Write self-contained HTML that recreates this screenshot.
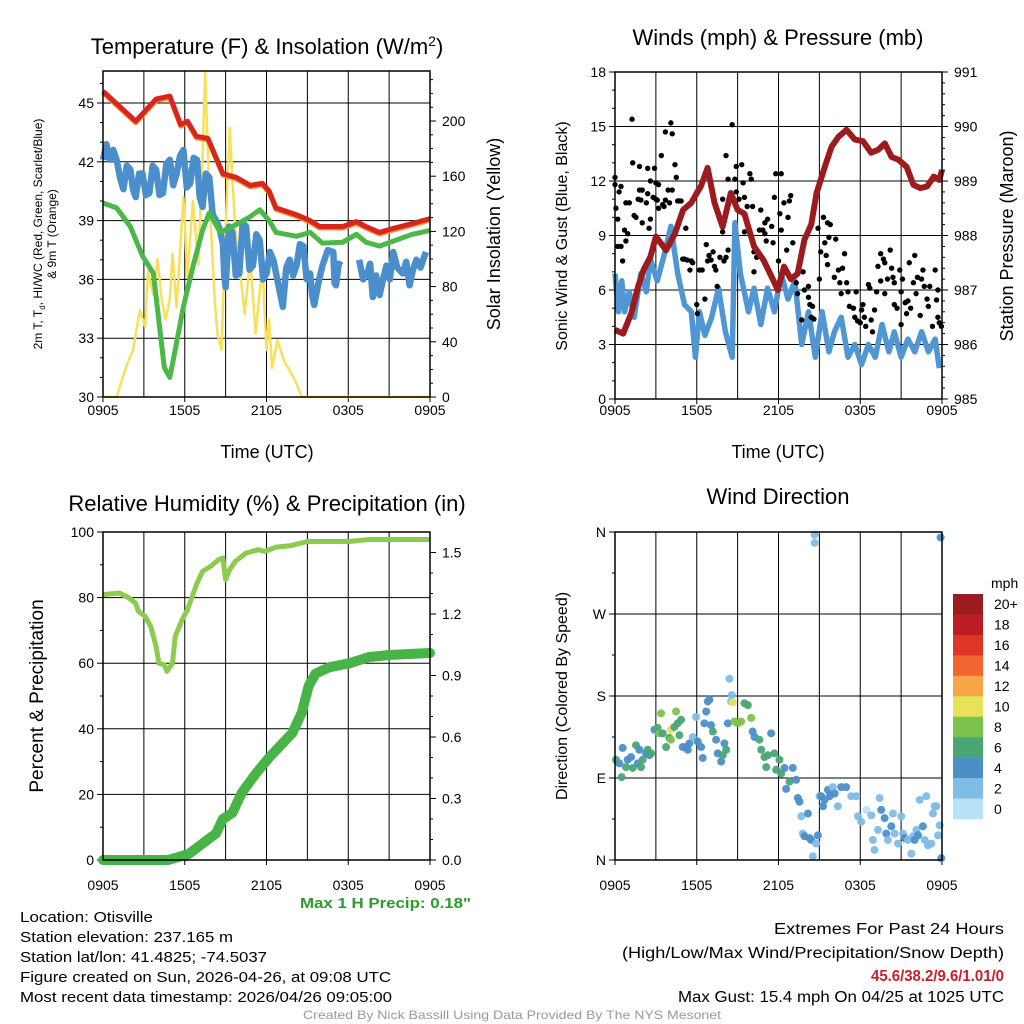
<!DOCTYPE html>
<html><head><meta charset="utf-8"><style>
html,body{margin:0;padding:0;background:#fff;}
svg{display:block;font-family:"Liberation Sans",Arial,sans-serif;}
</style></head><body>
<svg id="root" width="1024" height="1024" viewBox="0 0 1024 1024">
<g id="p1"></g>
<g id="p2"></g>
<g id="p3"></g>
<g id="p4"></g>
<g id="texts">
<text x="20" y="922" font-size="14.5" textLength="133" lengthAdjust="spacingAndGlyphs">Location: Otisville</text>
<text x="20" y="942" font-size="14.5" textLength="213" lengthAdjust="spacingAndGlyphs">Station elevation: 237.165 m</text>
<text x="20" y="962" font-size="14.5" textLength="247" lengthAdjust="spacingAndGlyphs">Station lat/lon: 41.4825; -74.5037</text>
<text x="20" y="982" font-size="14.5" textLength="371" lengthAdjust="spacingAndGlyphs">Figure created on Sun, 2026-04-26, at 09:08 UTC</text>
<text x="20" y="1002" font-size="14.5" textLength="372" lengthAdjust="spacingAndGlyphs">Most recent data timestamp: 2026/04/26 09:05:00</text>
<text x="774" y="934" font-size="15.5" textLength="230" lengthAdjust="spacingAndGlyphs">Extremes For Past 24 Hours</text>
<text x="622" y="958" font-size="15.5" textLength="382" lengthAdjust="spacingAndGlyphs">(High/Low/Max Wind/Precipitation/Snow Depth)</text>
<text x="871" y="981" font-size="15.5" font-weight="bold" fill="#c8202a" textLength="133" lengthAdjust="spacingAndGlyphs">45.6/38.2/9.6/1.01/0</text>
<text x="678" y="1002" font-size="15.5" textLength="326" lengthAdjust="spacingAndGlyphs">Max Gust: 15.4 mph On 04/25 at 1025 UTC</text>
<text x="300" y="908" font-size="14.5" font-weight="bold" fill="#2c9a2c" textLength="171" lengthAdjust="spacingAndGlyphs">Max 1 H Precip: 0.18"</text>
<text x="303" y="1019" font-size="12" fill="#999" textLength="418" lengthAdjust="spacingAndGlyphs">Created By Nick Bassill Using Data Provided By The NYS Mesonet</text>
</g>
</svg>
<script>
// ---------- DATA ----------
const xTickLabels = ["0905","1505","2105","0305","0905"];
const tempTicks = [30,33,36,39,42,45];
const solarTicks = [0,40,80,120,160,200];
const tempT = [0,2.4,3.9,4.9,5.7,6.2,6.85,7.7,8.8,9.8,10.8,11.7,12.2,12.7,14.2,15.2,15.9,17.6,18.6,19.3,20.3,21.3,22.7,24];
const tempV = [45.6,44.07,45.2,45.35,43.9,44.07,43.3,43.2,41.4,41.2,40.8,40.9,40.5,39.65,39.3,39.0,38.7,38.7,38.95,38.7,38.4,38.6,38.85,39.1];
const dewT = [0,1,2,2.9,3.7,4.2,4.5,4.9,5.3,5.9,6.6,7.3,7.8,8.6,9.8,10.8,11.5,12.2,12.7,14.2,15.2,16.1,17.6,18.6,19.3,20.3,21.5,22.7,24];
const dewV = [39.9,39.65,38.7,37.2,36.3,33.3,31.5,31.0,32.4,34.6,36.65,38.5,39.4,38.4,38.8,39.2,39.55,39.0,38.4,38.2,38.4,37.85,37.9,38.3,37.9,37.7,38.0,38.3,38.5];
const wcT = [0,0.25,0.5,0.75,1,1.25,1.5,1.75,2,2.2,2.4,2.65,2.9,3.15,3.4,3.65,3.9,4.15,4.4,4.65,4.9,5.15,5.4,5.65,5.9,6.15,6.4,6.65,6.9,7.1,7.3,7.55,7.8,8.05,8.3,8.55,8.8,8.9,9.0,9.25,9.5,9.75,10.0,10.25,10.5,10.75,11.0,11.25,11.5,11.75,12.0,12.25,12.5,12.85,13.2,13.45,13.7,13.95,14.2,14.45,14.7,14.95,15.2,15.35,15.5,15.8,16.1,16.5,16.9,17.0,17.1,17.3,17.5];
const wcV = [42.1,42.9,42.1,42.6,42.1,41.2,40.6,41.8,41.6,40.6,40.2,41.4,41.4,40.3,40.4,41.8,41.6,40.3,40.4,41.9,42.1,40.8,41.4,42.3,42.6,40.7,40.9,42.2,42.1,40.2,39.7,41.4,41.2,39.3,39.0,38.6,37.8,36.2,35.6,38.7,38.4,36.2,36.3,38.9,38.7,36.5,36.7,38.3,38.0,36.0,36.3,37.4,37.0,35.8,34.6,36.6,37.0,36.2,36.7,37.8,37.7,36.0,36.3,35.2,34.7,35.8,36.7,37.5,37.4,35.8,35.7,36.8,36.7];
const wcT2 = [18.8,19.1,19.4,19.6,19.8,20.05,20.3,20.55,20.8,21.05,21.3,21.6,22.0,22.25,22.5,22.75,23.0,23.3,23.7];
const wcV2 = [37.0,36.0,36.3,36.8,35.1,36.2,35.2,36.0,36.7,36.0,37.4,36.6,36.3,36.9,35.7,36.5,37.0,36.6,37.4];
const solT = [0,1,1.7,2.2,2.7,3.1,3.3,3.7,4.0,4.3,4.6,4.9,5.1,5.4,5.9,6.2,6.6,7.0,7.3,7.5,7.8,8.2,8.4,8.7,9.0,9.3,9.7,10.0,10.4,10.8,11.2,11.7,12.0,12.2,12.4,12.8,13.3,14.1,14.6,24];
const solV = [0,0,22,34,63,51,91,74,100,71,56,71,104,65,145,87,142,96,174,235,145,71,46,34,121,195,121,96,60,101,46,96,34,56,21,41,26,12,0,0];

const windTicks = [0,3,6,9,12,15,18];
const presTicks = [985,986,987,988,989,990,991];
const spdT = [0,0.25,0.5,0.7,1.05,1.4,1.9,2.3,2.6,3.1,3.6,4.1,4.6,5.1,5.6,5.9,6.2,6.6,7.1,7.6,8.1,8.6,8.8,9.2,9.8,10.2,10.7,11.2,11.7,12.2,12.7,13.2,13.7,14.2,14.7,15.2,15.7,16.1,16.6,17.1,17.6,18.1,18.6,19.1,19.6,20.1,20.5,21.0,21.5,22.0,22.5,23.0,23.5,23.8];
const spdV = [6.9,4.8,6.5,4.8,5.9,4.5,6.9,5.9,7.7,6.5,7.9,9.5,6.9,5.2,4.8,2.3,4.8,3.5,4.5,6.1,3.7,2.3,9.7,6.9,4.8,6.1,4.1,6.1,4.8,6.9,5.5,6.5,3.0,4.8,2.3,4.8,2.6,3.7,4.5,2.3,3.0,1.9,3.0,2.3,4.1,2.6,3.7,2.3,3.3,2.6,3.7,2.6,3.3,1.7];
const gustT = [0,0,0.07,0.2,0.44,0.3,0.2,0.44,0.56,0.7,0.8,0.93,0.8,1.05,1.25,1.3,1.4,1.54,1.8,1.8,2.0,1.7,1.9,2.0,2.3,2.4,2.4,2.5,2.6,2.6,2.8,2.9,3.0,3.0,3.1,3.2,3.2,3.4,3.5,3.6,3.7,3.7,3.9,4.0,4.1,4.2,4.2,4.4,4.5,4.6,4.7,4.85,4.97,5.2,5.1,5.3,5.6,5.5,5.7,6.0,6.05,6.2,6.4,6.6,6.7,6.8,6.9,7.05,7.2,7.3,7.4,7.5,7.7,7.9,7.9,8.0,8.15,8.3,8.15,8.3,8.6,8.8,8.9,8.9,9.1,9.3,9.4,9.5,9.5,9.7,9.9,10.0,10.1,10.2,10.4,10.2,10.7,10.6,10.85,11.0,11.0,11.1,11.2,11.5,11.6,11.7,11.8,12.0,12.1,12.2,12.2,12.4,12.6,12.7,12.8,12.9,13.05,13.3,13.4,13.7,13.8,13.9,14.2,14.2,14.3,14.5,14.4,14.6,14.9,15.0,15.1,15.3,15.4,15.5,15.6,15.6,15.7,15.8,16.2,16.1,16.4,16.5,16.6,16.85,16.7,17.0,17.1,17.2,17.5,17.7,17.6,17.8,18.0,18.1,18.2,18.3,18.4,18.6,18.7,18.8,18.9,19.05,19.2,19.3,19.5,19.7,19.8,19.5,19.8,20.2,20.0,20.3,20.4,20.5,20.5,20.7,20.9,21.0,21.1,21.3,21.4,21.0,21.5,21.6,21.7,21.9,22.0,22.1,22.2,22.4,22.5,22.6,22.7,22.9,23.0,23.1,23.3,23.5,23.6,23.7,23.8,23.95,23.7];
const gustV = [12.2,11.8,10.5,9.9,11.7,11.4,8.4,8.4,7.6,9.3,8.7,9.1,10.8,10.8,15.4,13,10.1,10,12.8,11.5,11.5,11,10.95,9.7,10.8,12.7,11.3,9.4,9.9,12,11.1,12.7,11.9,11.0,10.95,11.8,10.5,13.4,10.7,10.6,14.7,10.95,11.5,10.8,15.2,14.6,11.5,12.9,12.2,10.9,10.9,10.9,7.7,9.4,7.7,7.65,7.6,7.1,7.5,5.2,4.7,7.1,7.1,5.5,8.5,7.6,7.9,7.65,8.1,7.3,7.1,6.2,7.8,11,9.2,7.6,13.4,12.1,7.8,8.2,15.1,12.1,12.8,11.4,11.0,12.9,11.9,11.1,9.2,10.6,12.4,12.1,10.6,8.1,7.8,7.0,10.4,9.3,9.3,9.7,9.1,8.7,9.9,9.5,8.6,11.1,12.4,7.6,10.2,12.4,9.3,10.8,8.2,10.0,10.9,11.2,8.6,6.4,5.8,4.35,7.0,6.0,6.2,5.6,5.2,5.1,4.5,4.4,9.4,6.6,8.1,10.0,8.6,7.9,7.4,9.7,8.9,9.6,8.8,6.7,7.1,6.4,5.8,8.0,7.2,6.4,5.9,5.1,5.0,5.9,4.5,4.3,4.2,4.9,5.2,4.5,4.0,6.3,6.1,4.35,3.7,4.9,5.9,7.3,8.0,7.7,7.5,6.5,5.8,8.2,6.6,7.2,6.7,6.4,5.2,5.0,7.1,5.9,6.6,5.3,4.7,4.1,5.4,7.5,5.0,6.4,7.9,5.8,6.7,4.6,6.6,7.1,6.2,5.5,5.1,6.2,4.0,7.1,5.45,4.5,4.2,4.0,6.0];
const presT = [0,0.6,1.2,1.7,2.1,2.6,3.0,3.75,4.4,5.0,5.6,6.0,6.3,6.8,7.3,7.9,8.5,9.0,9.5,10.2,10.9,11.5,11.95,12.4,12.9,13.4,13.9,14.4,14.8,15.4,15.9,16.4,17.0,17.6,18.2,18.8,19.3,19.8,20.3,20.8,21.4,21.9,22.4,22.9,23.4,23.8,24];
const presV = [986.27,986.2,986.58,987.07,987.37,987.61,987.98,987.73,988.04,988.47,988.6,988.78,988.9,989.24,988.6,988.16,988.78,988.47,988.4,987.8,987.55,987.24,987.0,987.43,987.2,987.3,987.92,988.2,988.78,989.26,989.63,989.81,989.94,989.76,989.73,989.52,989.57,989.69,989.44,989.39,989.26,988.93,988.87,988.9,989.08,989.02,989.2];

const rhTicks = [0,20,40,60,80,100];
const prTicks = ["0.0","0.3","0.6","0.9","1.2","1.5"];
const rhT = [0,1.2,1.9,2.4,2.6,3.1,3.5,3.9,4.1,4.5,4.7,5.1,5.3,5.8,6.2,6.6,6.9,7.3,7.9,8.5,8.8,9.0,9.3,9.7,10.5,11.4,11.9,12.7,13.7,15.0,18.1,19.5,24];
const rhV = [80.9,81.4,79.9,78.3,75.8,74.3,71.2,65.1,60,59.5,57.5,60,68.2,73.2,76.3,80.9,84.4,88,89.5,91.6,92.1,85.5,88.5,91,93.6,94.6,94.1,95.4,95.8,97.1,97.1,97.7,97.7];
const prT = [0,4.8,6.3,7.3,8.3,8.8,9.5,10.2,11.2,12.2,13.2,13.9,14.6,15.1,15.6,16.6,18.1,19.5,21.0,24];
const prV = [0,0,0.03,0.08,0.13,0.2,0.23,0.33,0.42,0.5,0.57,0.62,0.72,0.85,0.91,0.94,0.96,0.99,1.0,1.01];

const dirTicks = ["N","E","S","W","N"];
const dirT = [0.07,0.32,0.56,0.49,0.81,0.93,1.18,1.3,1.54,1.67,
1.79,1.91,2.03,2.28,2.4,2.52,2.65,2.89,3.13,3.26,
3.38,3.5,3.75,3.99,4.11,4.11,4.36,4.48,4.6,4.73,
4.85,4.97,5.22,5.34,5.46,5.71,5.95,6.07,6.32,6.44,
6.56,6.69,6.81,6.93,7.05,7.18,7.42,7.54,7.79,7.91,
8.03,8.16,8.28,8.4,8.52,8.57,8.65,8.77,9.01,9.26,
9.5,9.75,9.99,10.1,10.24,10.6,10.73,10.97,11.1,11.22,
11.46,11.7,11.83,12.07,12.2,12.44,12.56,12.81,13.05,13.3,
13.42,13.54,13.67,13.79,13.91,14.16,14.28,14.4,14.52,14.65,
14.65,14.77,14.89,15.01,15.14,15.26,15.38,15.63,15.75,15.99,
16.12,16.36,16.6,16.97,17.34,17.71,17.83,18.07,18.44,18.81,
18.93,19.05,19.3,19.42,19.54,19.79,19.91,20.03,20.28,20.4,
20.52,20.77,21.01,21.14,21.26,21.5,21.75,21.87,21.99,22.12,
22.24,22.36,22.6,22.73,22.85,22.97,23.22,23.34,23.46,23.59,
23.71,23.83,23.9,23.95];
const dirV = [110,106,123,91,102,110,113,101,126,106,
121,102,110,117,121,115,117,143,145,139,
161,139,124,134,143,132,146,163,150,137,
154,124,124,121,128,135,157,130,124,112,
150,163,174,176,148,141,132,117,108,115,
128,121,150,199,174,181,173,152,150,152,
172,170,156,141,135,132,121,113,102,115,
139,117,99,110,95,101,78,86,101,88,
68,64,48,29,26,51,24,22,4,357,
348,18,27,70,70,59,66,77,70,80,
73,59,80,80,70,70,48,42,55,49,
22,11,33,68,55,46,29,22,37,51,
29,18,48,29,24,22,7,26,22,33,
27,66,37,22,70,16,18,51,59,59,
27,38,354,2];
const dirS = [6,4,4,6,6,4,4,6,6,4,
4,6,6,4,6,4,6,4,6,8,
8,6,6,6,10,8,6,8,6,6,
6,4,4,4,4,2,2,4,4,4,
4,4,4,4,4,6,4,4,4,6,
4,6,4,2,2,2,10,8,8,8,
6,6,8,4,4,6,6,6,6,6,
4,6,6,6,6,4,4,6,4,4,
4,4,2,2,4,4,4,4,2,2,
2,2,4,2,4,4,4,4,4,2,
4,2,4,4,2,2,2,2,0,2,
2,2,2,2,4,4,4,2,4,2,
2,2,2,2,4,2,2,2,4,2,
4,2,4,2,2,2,2,2,2,2,
2,2,4,4];
const cbLabels = ["20+","18","16","14","12","10","8","6","4","2","0"];
const cbColors = ["#9b1b1e","#bd1e24","#e03428","#f26430","#f9a64a","#e8e25a","#7dc24c","#49a774","#4b8fc8","#7fbce6","#b8e2f7"];

// ---------- HELPERS ----------
const NS = "http://www.w3.org/2000/svg";
function mk(parent, tag, attrs, text) {
  const e = document.createElementNS(NS, tag);
  for (const k in attrs) e.setAttribute(k, attrs[k]);
  if (text !== undefined) e.textContent = text;
  parent.appendChild(e);
  return e;
}
function lin(d0, d1, r0, r1) { return v => r0 + (v - d0) / (d1 - d0) * (r1 - r0); }
function pathFrom(ts, vs, sx, sy) {
  let d = "", pen = false;
  for (let i = 0; i < ts.length; i++) {
    if (vs[i] === null) { pen = false; continue; }
    d += (pen ? "L" : "M") + sx(ts[i]).toFixed(1) + "," + sy(vs[i]).toFixed(1);
    pen = true;
  }
  return d;
}

function frame(g, L, T, R, B, yTicksL, yTicksR, xlabelY, minorL, minorR) {
  const sx = lin(0, 24, L, R);
  for (let h = 3; h < 24; h += 3) {
    const v = mk(g, "line", {x1: sx(h), x2: sx(h), y1: T, y2: B, stroke: "#000", "stroke-width": 1});
    
    
  }
  yTicksL.forEach(t => {
    const l = mk(g, "line", {x1: L, x2: R, y1: t.y, y2: t.y, stroke: "#000", "stroke-width": 1});
    
    
    mk(g, "line", {x1: L - 6, x2: L, y1: t.y, y2: t.y, stroke: "#000"});
    const tx = mk(g, "text", {x: L - 9, y: t.y + 5, "font-size": 14, "text-anchor": "end"}, t.label);
    
    
  });
  (minorL || []).forEach(y => mk(g, "line", {x1: L - 3, x2: L, y1: y, y2: y, stroke: "#000"}));
  (yTicksR || []).forEach(t => {
    mk(g, "line", {x1: R, x2: R + 6, y1: t.y, y2: t.y, stroke: "#000"});
    const tx = mk(g, "text", {x: R + 12, y: t.y + 5, "font-size": 14}, t.label);
    
    
  });
  (minorR || []).forEach(y => mk(g, "line", {x1: R, x2: R + 3, y1: y, y2: y, stroke: "#000"}));
  xTickLabels.forEach((lab, i) => {
    const x = sx(i * 6);
    mk(g, "line", {x1: x, x2: x, y1: B, y2: B + 5, stroke: "#000"});
    const tx = mk(g, "text", {x: x, y: xlabelY, "font-size": 14, "text-anchor": "middle"}, lab);
    
    
  });
  return sx;
}
function border(g, L, T, R, B) {
  const r = mk(g, "rect", {x: L, y: T, width: R - L, height: B - T, fill: "none", stroke: "#000", "stroke-width": 1.5});
  
  
}

// ---------- PANEL 1 ----------
(function () {
  const g = document.getElementById("p1");
  const L = 103, R = 430, T = 71, B = 397;
  const sy = lin(30, 45, 397, 103);
  const sy2 = lin(0, 200, 397, 121);
  const minorL = [], minorR = [];
  for (let v = 31; v <= 46; v++) if (v % 3) minorL.push(sy(v));
  for (let v = 10; v <= 230; v += 10) if (v % 40) minorR.push(sy2(v));
  const sx = frame(g, L, T, R, B, tempTicks.map(v => ({y: sy(v), label: v})), solarTicks.map(v => ({y: sy2(v), label: v})), 415, minorL, minorR);
  let p;
  p = mk(g, "path", {d: pathFrom(solT, solV, sx, sy2), fill: "none", stroke: "#f7e05a", "stroke-width": 2.5, "stroke-linejoin": "round"});
   
  p = mk(g, "path", {d: pathFrom(wcT, wcV, sx, sy), fill: "none", stroke: "#4a8fcc", "stroke-width": 6.5, "stroke-linejoin": "round"});
   
  p = mk(g, "path", {d: pathFrom(wcT2, wcV2, sx, sy), fill: "none", stroke: "#4a8fcc", "stroke-width": 6.5, "stroke-linejoin": "round"});
   
  p = mk(g, "path", {d: pathFrom(dewT, dewV, sx, sy), fill: "none", stroke: "#4cb848", "stroke-width": 5, "stroke-linejoin": "round"});
   
  p = mk(g, "path", {d: pathFrom(tempT, tempV, sx, sy), fill: "none", stroke: "#f7892e", "stroke-width": 5, "stroke-linejoin": "round", transform: "translate(0,1.5)"});
   
  p = mk(g, "path", {d: pathFrom(tempT, tempV, sx, sy), fill: "none", stroke: "#d8261e", "stroke-width": 5, "stroke-linejoin": "round"});
   
  border(g, L, T, R, B);
  let t = mk(g, "text", {x: 267, y: 54, "font-size": 22, "text-anchor": "middle"});
  t.innerHTML = 'Temperature (F) &amp; Insolation (W/m<tspan dy="-8" font-size="14">2</tspan><tspan dy="8">)</tspan>';
   
  t = mk(g, "text", {x: 267, y: 458, "font-size": 18, "text-anchor": "middle"}, "Time (UTC)");
   
  t = mk(g, "text", {x: 0, y: 0, "font-size": 18, "text-anchor": "middle", transform: "translate(500,234) rotate(-90)"}, "Solar Insolation (Yellow)");
   
  t = mk(g, "text", {x: 0, y: 0, "font-size": 12, "text-anchor": "middle", transform: "translate(42,234) rotate(-90)"});
  t.innerHTML = '2m T, T<tspan dy="3" font-size="8">d</tspan><tspan dy="-3">, HI/WC (Red, Green, Scarlet/Blue)</tspan>';
   
  t = mk(g, "text", {x: 0, y: 0, "font-size": 12, "text-anchor": "middle", transform: "translate(56,234) rotate(-90)"}, "& 9m T (Orange)");
   
})();

// ---------- PANEL 2 ----------
(function () {
  const g = document.getElementById("p2");
  const L = 615, R = 942, T = 72, B = 399;
  const sy = lin(0, 18, 399, 72);
  const sy2 = lin(985, 991, 399, 72);
  const minorL = [], minorR = [];
  for (let v = 1; v < 18; v++) if (v % 3) minorL.push(sy(v));
  for (let v = 985.2; v < 991; v += 0.2) if (Math.abs(v - Math.round(v)) > 0.05) minorR.push(sy2(v));
  const sx = frame(g, L, T, R, B, windTicks.map(v => ({y: sy(v), label: v})), presTicks.map(v => ({y: sy2(v), label: v})), 415, minorL, minorR);
  let p = mk(g, "path", {d: pathFrom(spdT, spdV, sx, sy), fill: "none", stroke: "#4f96d2", "stroke-width": 5.5, "stroke-linejoin": "round"});
   
  gustT.forEach((t, i) => {
    const c = mk(g, "circle", {cx: sx(t), cy: sy(gustV[i]), r: 2.7, fill: "#000"});
    
    
  });
  p = mk(g, "path", {d: pathFrom(presT, presV, sx, sy2), fill: "none", stroke: "#9b1b1e", "stroke-width": 6, "stroke-linejoin": "round"});
   
  border(g, L, T, R, B);
  let t = mk(g, "text", {x: 778, y: 45, "font-size": 22, "text-anchor": "middle"}, "Winds (mph) & Pressure (mb)");
   
  t = mk(g, "text", {x: 778, y: 458, "font-size": 18, "text-anchor": "middle"}, "Time (UTC)");
   
  t = mk(g, "text", {x: 0, y: 0, "font-size": 16, "text-anchor": "middle", transform: "translate(567,236) rotate(-90)"}, "Sonic Wind & Gust (Blue, Black)");
   
  t = mk(g, "text", {x: 0, y: 0, "font-size": 18, "text-anchor": "middle", transform: "translate(1013,236) rotate(-90)"}, "Station Pressure (Maroon)");
   
})();

// ---------- PANEL 3 ----------
(function () {
  const g = document.getElementById("p3");
  const L = 103, R = 430, T = 532, B = 860;
  const sy = lin(0, 100, 860, 532);
  const sy2 = lin(0, 1.6, 860, 532);
  const minorL = [], minorR = [];
  for (let v = 10; v < 100; v += 20) minorL.push(sy(v));
  for (let v = 0.1; v < 1.6; v += 0.1) if (Math.abs(v * 10 % 3) > 0.1 && Math.abs(v * 10 % 3 - 3) > 0.1) minorR.push(sy2(v));
  const sx = frame(g, L, T, R, B, rhTicks.map(v => ({y: sy(v), label: v})), prTicks.map(v => ({y: sy2(+v), label: v})), 890, minorL, minorR);
  let p = mk(g, "path", {d: pathFrom(rhT, rhV, sx, sy), fill: "none", stroke: "#8ccb4e", "stroke-width": 5, "stroke-linejoin": "round"});
   
  p = mk(g, "path", {d: pathFrom(prT, prV, sx, sy2), fill: "none", stroke: "#48b448", "stroke-width": 10, "stroke-linejoin": "round", "stroke-linecap": "round"});
   
  border(g, L, T, R, B);
  let t = mk(g, "text", {x: 267, y: 511, "font-size": 22, "text-anchor": "middle"}, "Relative Humidity (%) & Precipitation (in)");
   
  t = mk(g, "text", {x: 0, y: 0, "font-size": 19, "text-anchor": "middle", transform: "translate(43,696) rotate(-90)"}, "Percent & Precipitation");
   
})();

// ---------- PANEL 4 ----------
(function () {
  const g = document.getElementById("p4");
  const L = 615, R = 942, T = 532, B = 860;
  const sy = lin(0, 360, 860, 532);
  const ticks = dirTicks.map((lab, i) => ({y: sy(i * 90), label: lab}));
  const minorL = [45, 135, 225, 315].map(sy);
  const sx = frame(g, L, T, R, B, ticks, null, 890, minorL, null);
  dirT.forEach((t, i) => {
    const s = dirS[i];
    const idx = 10 - Math.min(10, Math.floor(s / 2));
    const c = mk(g, "circle", {cx: sx(t), cy: sy(dirV[i] % 360), r: 4, fill: cbColors[idx], "fill-opacity": 0.95});
    
    
  });
  border(g, L, T, R, B);
  let t = mk(g, "text", {x: 778, y: 504, "font-size": 22, "text-anchor": "middle"}, "Wind Direction");
   
  t = mk(g, "text", {x: 0, y: 0, "font-size": 16, "text-anchor": "middle", transform: "translate(567,696) rotate(-90)"}, "Direction (Colored By Speed)");
   
  const cb = mk(g, "g", {});
  
  
  const h = 225 / 11;
  cbLabels.forEach((lab, i) => {
    const r = mk(cb, "rect", {x: 953, y: 594 + i * h, width: 30, height: h + 0.3, fill: cbColors[i]});
    
    
    const tx = mk(cb, "text", {x: 994, y: 594 + i * h + h / 2 + 5, "font-size": 14}, lab);
    
    
  });
  t = mk(cb, "text", {x: 991, y: 588, "font-size": 14}, "mph");
   
})();
</script>
</body></html>
